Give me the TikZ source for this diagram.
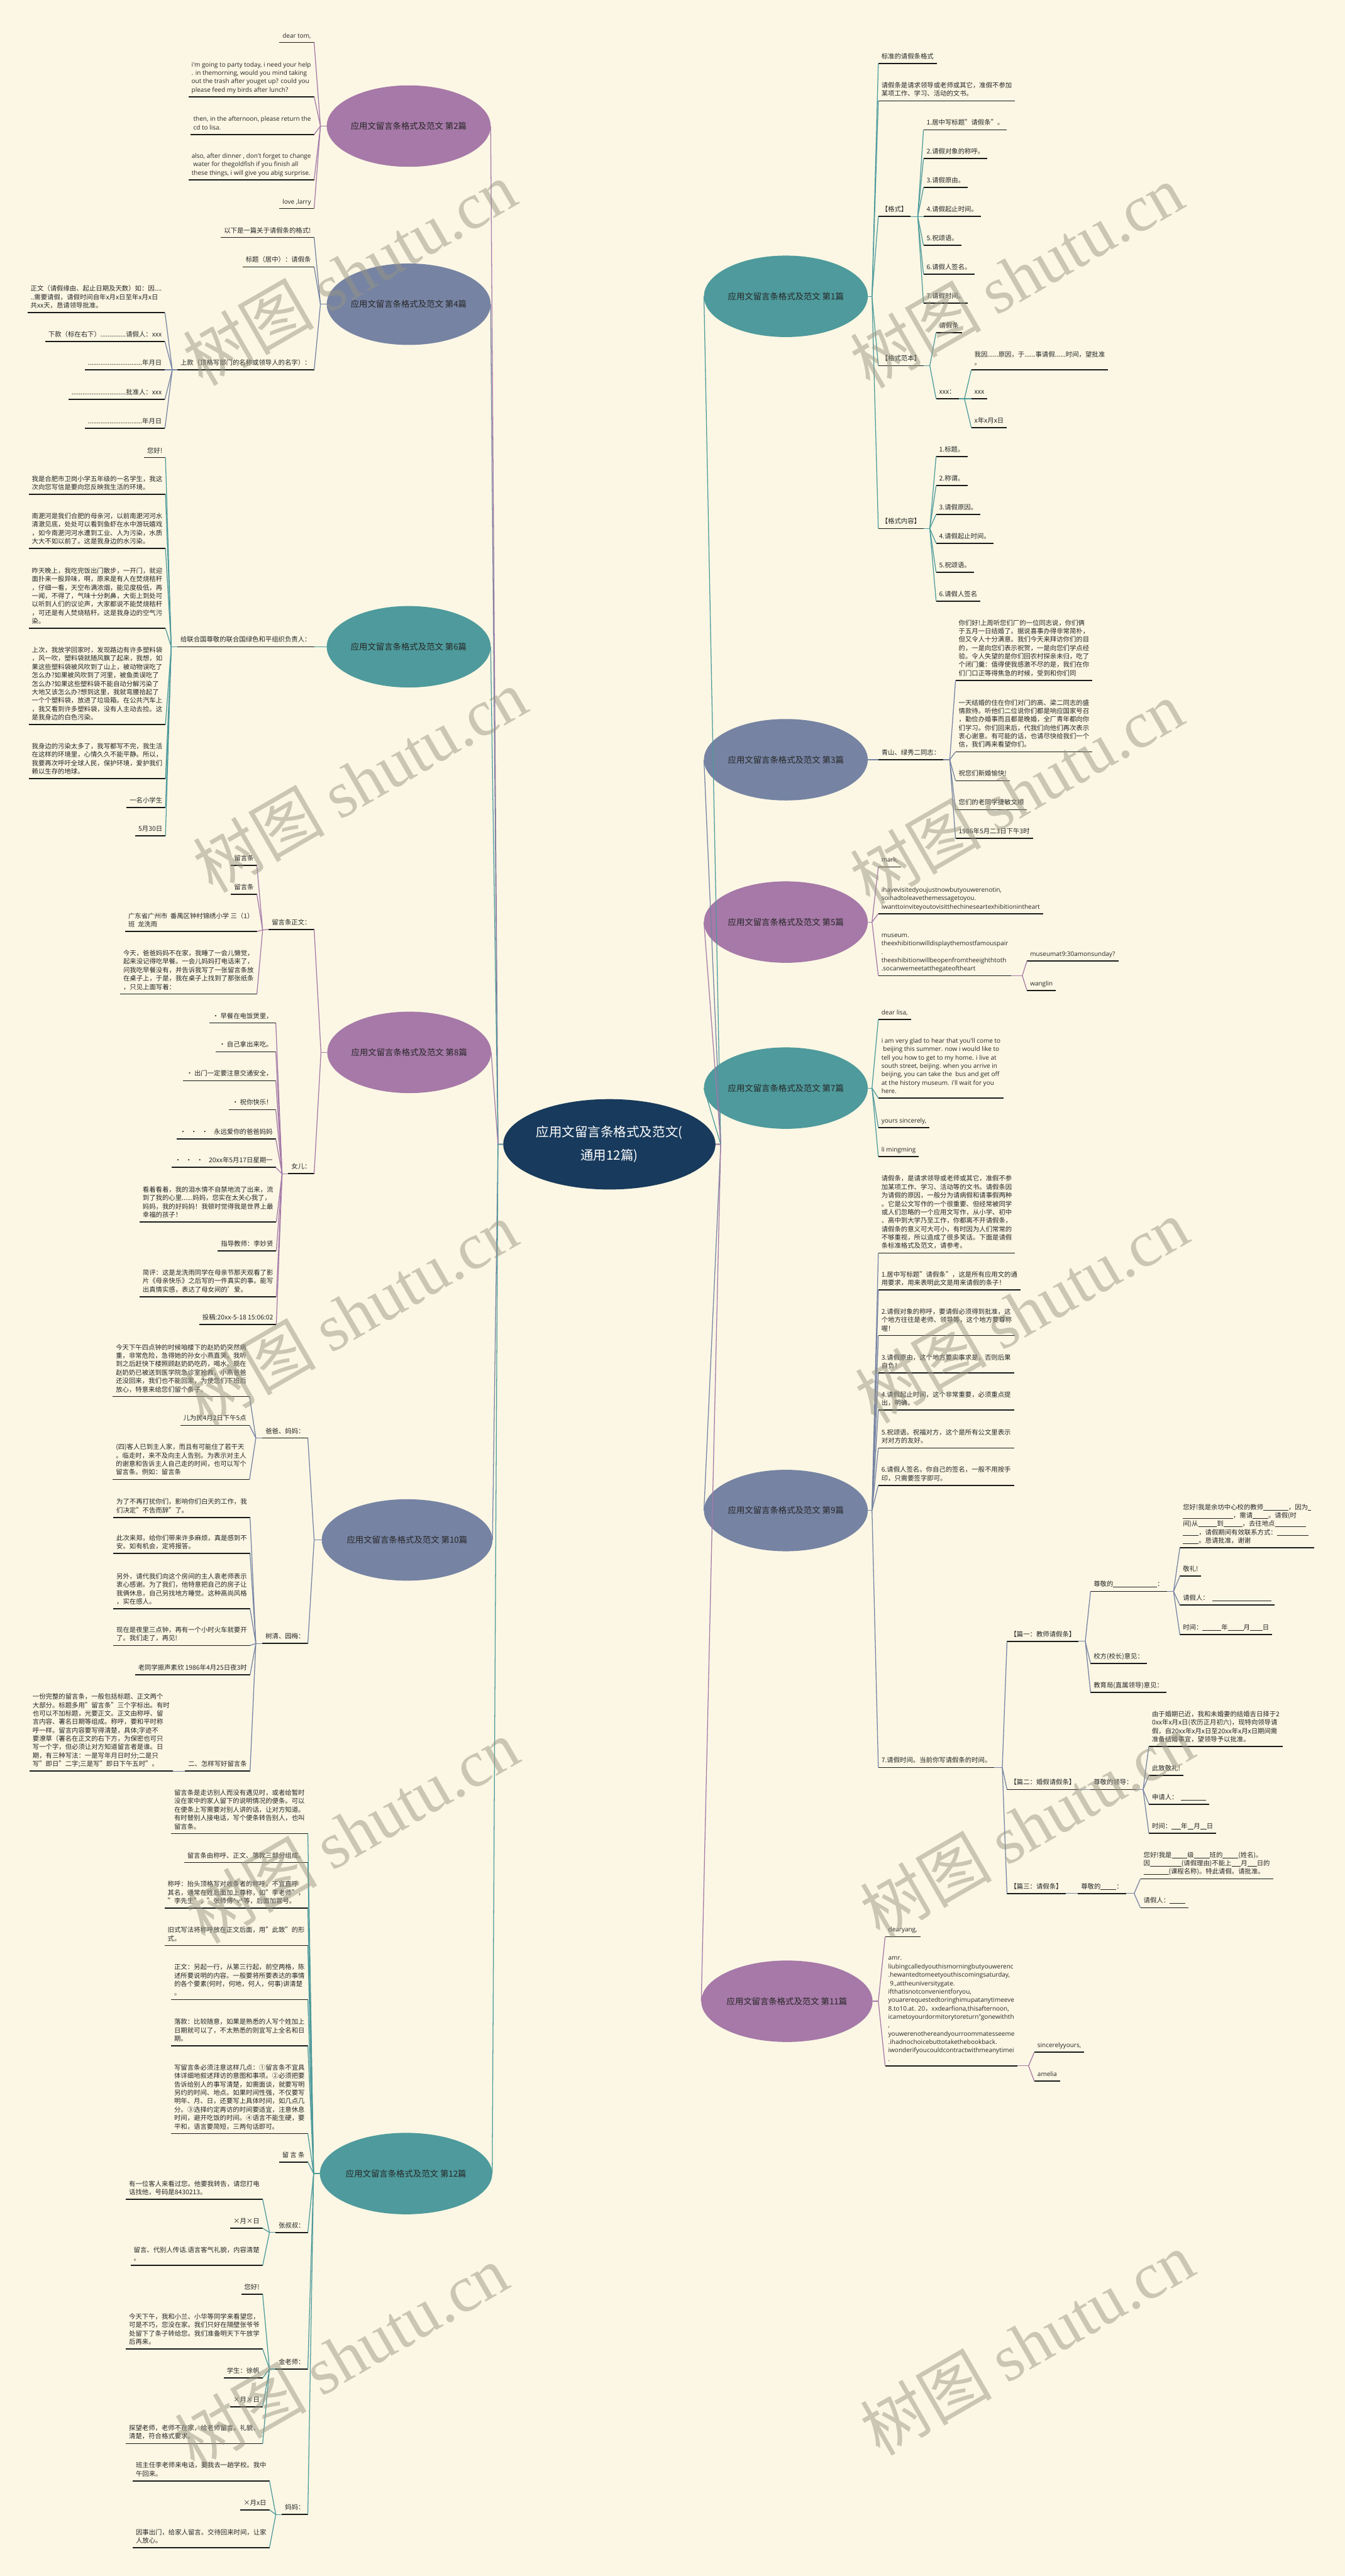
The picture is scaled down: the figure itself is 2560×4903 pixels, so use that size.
\documentclass[tikz,border=0pt]{standalone}
\usepackage{fontspec}
\setmainfont{Noto Sans CJK SC}
\newfontfamily\enfont{Open Sans}
\newfontfamily\cjkf{Noto Sans CJK SC}
\newfontfamily\wmlat{Liberation Serif}
\usetikzlibrary{shapes.geometric}
\definecolor{bgc}{RGB}{251,247,228}
\definecolor{cpur}{RGB}{166,121,168}
\definecolor{cslate}{RGB}{118,131,163}
\definecolor{cteal}{RGB}{78,154,156}
\definecolor{cnavy}{RGB}{24,58,92}
\definecolor{txt}{RGB}{38,38,38}
\definecolor{ulc}{RGB}{25,25,25}
\definecolor{wmc}{RGB}{152,150,132}
\newcommand\UL[1]{\rule[-0.1em]{\dimexpr0.48em*#1\relax}{0.06em}}
\tikzset{
  leaf/.style={inner xsep=1.8mm,inner ysep=5.1pt,outer sep=0pt,align=left,text=txt,font=\fontsize{10.6}{13.66}\selectfont},
  engl/.style={font=\enfont\fontsize{10.2}{13.66}\selectfont},
  uline/.style={draw=ulc,line width=1.7pt},
  lp/.style={draw=cpur,line width=1.3pt},
  ls/.style={draw=cslate,line width=1.3pt},
  lt/.style={draw=cteal,line width=1.3pt},
  br/.style={ellipse,inner sep=0pt,outer sep=0pt,minimum width=93.6mm,minimum height=46.5mm,font=\fontsize{13.66}{16}\selectfont,text=txt},
  wmk/.style={rotate=30,text=wmc,opacity=0.5,font=\fontsize{107}{107}\selectfont,inner sep=0pt},
}
\newcommand\leafL[5][]{\node[leaf,anchor=south east,#1] (#2) at (#3,#4) {#5\rule[-2.6pt]{0pt}{1pt}};\draw[uline] (#2.south west) -- (#2.south east);}
\newcommand\leafR[5][]{\node[leaf,anchor=south west,#1] (#2) at (#3,#4) {#5\rule[-2.6pt]{0pt}{1pt}};\draw[uline] (#2.south west) -- (#2.south east);}
\begin{document}
\begin{tikzpicture}[x=0.3mm,y=-0.3mm]
\fill[bgc] (0,0) rectangle (2560,4903);
\useasboundingbox (0,0) rectangle (2560,4903);

% root
\node[ellipse,fill=cnavy,text=white,inner sep=0pt,minimum width=121.2mm,minimum height=51.6mm,align=center,font=\fontsize{21}{38}\selectfont] (root) at (1160,2178) {应用文留言条格式及范文(\\通用12篇)};

% ===== left branches =====
\node[br,fill=cpur] (e2) at (778,240) {应用文留言条格式及范文 第2篇};
\node[br,fill=cslate] (e4) at (778,579) {应用文留言条格式及范文 第4篇};
\node[br,fill=cteal] (e6) at (778,1231) {应用文留言条格式及范文 第6篇};
\node[br,fill=cpur] (e8) at (779,2003) {应用文留言条格式及范文 第8篇};
\node[br,fill=cslate,minimum width=97.5mm] (e10) at (775,2931) {应用文留言条格式及范文 第10篇};
\node[br,fill=cteal,minimum width=98.4mm] (e12) at (773,4137) {应用文留言条格式及范文 第12篇};
% ===== right branches =====
\node[br,fill=cteal,minimum width=91.2mm] (e1) at (1496,564) {应用文留言条格式及范文 第1篇};
\node[br,fill=cslate,minimum width=91.2mm] (e3) at (1496,1446) {应用文留言条格式及范文 第3篇};
\node[br,fill=cpur,minimum width=91.2mm] (e5) at (1496,1755) {应用文留言条格式及范文 第5篇};
\node[br,fill=cteal,minimum width=91.2mm] (e7) at (1496,2071) {应用文留言条格式及范文 第7篇};
\node[br,fill=cslate,minimum width=91.2mm] (e9) at (1496,2875) {应用文留言条格式及范文 第9篇};
\node[br,fill=cpur,minimum width=97.8mm] (e11) at (1498,3809) {应用文留言条格式及范文 第11篇};

\foreach \e/\s in {e2/lp,e4/ls,e6/lt,e8/lp,e10/ls,e12/lt} \draw[\s] (\e.east) -- (948,2178) -- (root.west);
\foreach \e/\s in {e1/lt,e3/ls,e5/lp,e7/lt,e9/ls,e11/lp} \draw[\s] (\e.west) -- (1372,2178) -- (root.east);

% ----- 第2篇 -----
\leafL[engl]{a1}{598}{81}{dear tom,}
\leafL[engl]{a2}{598}{184}{i'm going to party today, i need your help\\. in themorning, would you mind taking\\out the trash after youget up? could you\\please feed my birds after lunch?}
\leafL[engl]{a3}{598}{256}{then, in the afternoon, please return the\\cd to lisa.}
\leafL[engl]{a4}{598}{342}{also, after dinner , don't forget to change\\\ water for thegoldfish if you finish all\\these things, i will give you abig surprise.}
\leafL[engl]{a5}{598}{397}{love ,larry}
\foreach \c in {a1,a2,a3,a4,a5} \draw[lp] (\c.south east) -- (610,240);
\draw[lp] (610,240) -- (e2.west);

% ----- 第4篇 -----
\leafL{b1}{598}{452}{以下是一篇关于请假条的格式!}
\leafL{b2}{598}{508}{标题（居中）：请假条}
\leafL{b3}{598}{704}{上款（顶格写部门的名称或领导人的名字）：}
\leafL{b31}{314}{595}{正文（请假缘由、起止日期及天数）如：因....\\..需要请假，请假时间自年x月x日至年x月x日\\共xx天，恳请领导批准。}
\leafL{b32}{314}{650}{下款（标在右下）..............请假人：xxx}
\leafL{b33}{314}{704}{..............................年月日}
\leafL{b34}{314}{760}{..............................批准人：xxx}
\leafL{b35}{314}{815}{..............................年月日}
\foreach \c in {b1,b2,b3} \draw[ls] (\c.south east) -- (610,579);
\draw[ls] (610,579) -- (e4.west);
\foreach \c in {b31,b32,b33,b34,b35} \draw[ls] (\c.south east) -- (328,704);
\draw[ls] (328,704) -- (b3.south west);

% ----- 第6篇 -----
\leafL{c1}{598}{1231}{给联合国尊敬的联合国绿色和平组织负责人：}
\leafL{c11}{315}{871}{您好!}
\leafL{c12}{315}{941}{我是合肥市卫岗小学五年级的一名学生，我这\\次向您写信是要向您反映我生活的环境。}
\leafL{c13}{315}{1044}{南淝河是我们合肥的母亲河，以前南淝河河水\\清澈见底，处处可以看到鱼虾在水中游玩嬉戏\\，如今南淝河河水遭到工业、人为污染，水质\\大大不如以前了。这是我身边的水污染。}
\leafL{c14}{315}{1196}{昨天晚上，我吃完饭出门散步，一开门，就迎\\面扑来一股异味，啊，原来是有人在焚烧秸秆\\，仔细一看，天空布满浓烟，能见度极低，再\\一闻，不得了，气味十分刺鼻，大街上到处可\\以听到人们的议论声，大家都说不能焚烧秸秆\\，可还是有人焚烧秸秆。这是我身边的空气污\\染。}
\leafL{c15}{315}{1379}{上次，我放学回家时，发现路边有许多塑料袋\\，风一吹，塑料袋就随风飘了起来，我想，如\\果这些塑料袋被风吹到了山上，被动物误吃了\\怎么办?如果被风吹到了河里，被鱼类误吃了\\怎么办?如果这些塑料袋不能自动分解污染了\\大地又该怎么办?想到这里，我就弯腰拾起了\\一个个塑料袋，放进了垃圾箱。在公共汽车上\\，我又看到许多塑料袋，没有人主动去捡。这\\是我身边的白色污染。}
\leafL{c16}{315}{1482}{我身边的污染太多了，我写都写不完，我生活\\在这样的环境里，心情久久不能平静。所以，\\我要再次呼吁全球人民，保护环境，爱护我们\\赖以生存的地球。}
\leafL{c17}{315}{1537}{一名小学生}
\leafL{c18}{315}{1591}{5月30日}
\draw[lt] (c1.south east) -- (610,1231) -- (e6.west);
\foreach \c in {c11,c12,c13,c14,c15,c16,c17,c18} \draw[lt] (\c.south east) -- (326,1231);
\draw[lt] (326,1231) -- (c1.south west);

% ----- 第8篇 -----
\leafL{d1}{598}{1769}{留言条正文：}
\leafL{d11}{489}{1647}{留言条}
\leafL{d12}{489}{1702}{留言条}
\leafL{d13}{489}{1773}{广东省广州市\ \ 番禺区钟村锦绣小学 三（1）\\班\ \ 龙洗雨}
\leafL{d14}{489}{1892}{今天，爸爸妈妈不在家，我睡了一会儿懒觉，\\起来没记得吃早餐。一会儿妈妈打电话来了，\\问我吃早餐没有，并告诉我写了一张留言条放\\在桌子上，于是，我在桌子上找到了那张纸条\\，只见上面写着：}
\leafL{d2}{598}{2234}{女儿：}
\leafL{d21}{525}{1947}{· 早餐在电饭煲里，}
\leafL{d22}{525}{2002}{· 自己拿出来吃。}
\leafL{d23}{525}{2057}{· 出门一定要注意交通安全，}
\leafL{d24}{525}{2112}{· 祝你快乐！}
\leafL{d25}{525}{2168}{·\ \ \ ·\ \ \ ·\ \ \ \ 永远爱你的爸爸妈妈}
\leafL{d26}{525}{2222}{·\ \ \ ·\ \ \ ·\ \ \ \ 20xx年5月17日星期一}
\leafL{d27}{526}{2326}{看着看着，我的泪水情不自禁地流了出来，流\\到了我的心里......妈妈，您实在太关心我了，\\妈妈，我的好妈妈！我顿时觉得我是世界上最\\幸福的孩子！}
\leafL{d28}{526}{2381}{指导教师：李妙贤}
\leafL{d29}{526}{2468}{简评：这是龙洗雨同学在母亲节那天观看了影\\片《母亲快乐》之后写的一件真实的事。能写\\出真情实感，表达了母女间的'爱。}
\leafL{d2a}{526}{2521}{投稿:20xx-5-18 15:06:02}
\foreach \c in {d1,d2} \draw[lp] (\c.south east) -- (611,2003);
\draw[lp] (611,2003) -- (e8.west);
\foreach \c in {d11,d12,d13,d14} \draw[lp] (\c.south east) -- (500,1770);
\draw[lp] (500,1770) -- (d1.south west);
\foreach \c in {d21,d22,d23,d24,d25,d26,d27,d28,d29,d2a} \draw[lp] (\c.south east) -- (537,2234);
\draw[lp] (537,2234) -- (d2.south west);

% ----- 第10篇 -----
\leafL{f1}{586}{2737}{爸爸、妈妈：}
\leafL{f11}{475}{2658}{今天下午四点钟的时候咱楼下的赵奶奶突然病\\重，非常危险，急得她的孙女小燕直哭。我听\\到之后赶快下楼照顾赵奶奶吃药，喝水。现在\\赵奶奶已被送到医学院急诊室抢救，小燕爸爸\\还没回来，我们也不能回家，为使您们下班后\\放心，特意来给您们留个条子。}
\leafL{f12}{475}{2713}{儿为民4月2日下午5点}
\leafL{f13}{475}{2816}{(四)客人已到主人家，而且有可能住了若干天\\。临走时，来不及向主人告别。为表示对主人\\的谢意和告诉主人自己走的时间，也可以写个\\留言条。例如：留言条}
\leafL{f2}{586}{3128}{树清、园梅：}
\leafL{f21}{476}{2888}{为了不再打扰你们，影响你们白天的工作，我\\们决定"不告而辞"了。}
\leafL{f22}{476}{2957}{此次来郑，给你们带来许多麻烦，真是感到不\\安。如有机会，定将报答。}
\leafL{f23}{476}{3062}{另外，请代我们向这个房间的主人袁老师表示\\衷心感谢。为了我们，他特意把自己的房子让\\我俩休息，自己另找地方睡觉。这种高尚风格\\，实在感人。}
\leafL{f24}{476}{3132}{现在是夜里三点钟，再有一个小时火车就要开\\了。我们走了，再见!}
\leafL{f25}{476}{3188}{老同学振声素欣 1986年4月25日夜3时}
\leafL{f26}{476}{3371}{二、怎样写好留言条}
\leafL{f261}{329}{3371}{一份完整的留言条，一般包括标题、正文两个\\大部分。标题多用"留言条"三个字标出。有时\\也可以不加标题，光要正文。正文由称呼、留\\言内容、署名日期等组成。称呼，要和平时称\\呼一样。留言内容要写得清楚，具体;字迹不\\要潦草〔署名在正文的右下方，为保密也可只\\写一个字，但必须让对方知道留言者是谁。日\\期，有三种写法：一是写年月日时分;二是只\\写"即日"二字;三是写"即日下午五时"。}
\foreach \c in {f1,f2} \draw[ls] (\c.south east) -- (598,2931);
\draw[ls] (598,2931) -- (e10.west);
\foreach \c in {f11,f12,f13} \draw[ls] (\c.south east) -- (487,2737);
\draw[ls] (487,2737) -- (f1.south west);
\foreach \c in {f21,f22,f23,f24,f25,f26} \draw[ls] (\c.south east) -- (487,3128);
\draw[ls] (487,3128) -- (f2.south west);
\draw[ls] (f261.south east) -- (f26.south west);

% ----- 第12篇 -----
\leafL{g1}{586}{3490}{留言条是走访别人而没有遇见时，或者给暂时\\没在家中的家人留下的说明情况的便条。可以\\在便条上写需要对别人讲的话，让对方知道。\\有时替别人接电话，写个便条转告别人，也叫\\留言条。}
\leafL{g2}{586}{3545}{留言条由称呼、正文、落款三部分组成。}
\leafL{g3}{586}{3632}{称呼：抬头顶格写对收条者的称呼，不宜直呼\\其名，通常在姓后面加上尊称，如"李老师"，\\"李先生"，"张师傅\textasciicircum v\textasciicircum 等，后面加冒号。}
\leafL{g4}{586}{3703}{旧式写法将称呼放在正文后面，用"此致"的形\\式。}
\leafL{g5}{586}{3806}{正文：另起一行，从第三行起，前空两格，陈\\述所要说明的内容。一般要将所要表达的事情\\的各个要素(何时，何地，何人，何事)讲清楚\\。}
\leafL{g6}{586}{3894}{落款：比较随意，如果是熟悉的人写个姓加上\\日期就可以了，不太熟悉的则宜写上全名和日\\期。}
\leafL{g7}{586}{4061}{写留言条必须注意这样几点：①留言条不宜具\\体详细地叙述拜访的意图和事项。②必须把要\\告诉给别人的事写清楚，如需面谈，就要写明\\另约的时间、地点。如果时间性强，不仅要写\\明年、月、日，还要写上具体时间，如几点几\\分。③选择约定再访的时间要适宜，注意休息\\时间，避开吃饭的时间。④语言不能生硬，要\\平和，语言要简短，三两句话即可。}
\leafL{g8}{586}{4115}{留\ 言\ 条}
\leafL{g9}{586}{4249}{张叔叔：}
\leafL{g91}{500}{4186}{有一位客人来看过您。他要我转告，请您打电\\话找他，号码是8430213。}
\leafL{g92}{500}{4241}{×月×日}
\leafL{g93}{500}{4312}{留言、代别人传话.语言客气礼貌，内容清楚\\。}
\leafL{g10}{586}{4509}{金老师：}
\leafL{g101}{500}{4367}{您好!}
\leafL{g102}{500}{4471}{今天下午，我和小兰、小华等同学来看望您，\\可是不巧，您没在家。我们只好在隔壁张爷爷\\处留下了条子转给您。我们准备明天下午放学\\后再来。}
\leafL{g103}{500}{4526}{学生：徐帆}
\leafL{g104}{500}{4581}{×月×日}
\leafL{g105}{500}{4651}{探望老师，老师不在家，给老师留言。礼貌、\\清楚，符合格式要求。}
\leafL{g11}{586}{4786}{妈妈：}
\leafL{g111}{513}{4722}{班主任李老师来电话，要我去一趟学校。我中\\午回来。}
\leafL{g112}{513}{4777}{×月x日}
\leafL{g113}{513}{4849}{因事出门，给家人留言。交待回来时间，让家\\人放心。}
\foreach \c in {g1,g2,g3,g4,g5,g6,g7,g8,g9,g10,g11} \draw[lt] (\c.south east) -- (597,4137);
\draw[lt] (597,4137) -- (e12.west);
\foreach \c in {g91,g92,g93} \draw[lt] (\c.south east) -- (513,4249);
\draw[lt] (513,4249) -- (g9.south west);
\foreach \c in {g101,g102,g103,g104,g105} \draw[lt] (\c.south east) -- (513,4509);
\draw[lt] (513,4509) -- (g10.south west);
\foreach \c in {g111,g112,g113} \draw[lt] (\c.south east) -- (525,4786);
\draw[lt] (525,4786) -- (g11.south west);

% ----- 第1篇 -----
\leafR{h1}{1672}{121}{标准的请假条格式}
\leafR{h2}{1672}{192}{请假条是请求领导或老师或其它，准假不参加\\某项工作、学习、活动的文书。}
\leafR{h3}{1672}{412}{【格式】}
\leafR{h31}{1758}{247}{1.居中写标题"请假条"。}
\leafR{h32}{1758}{302}{2.请假对象的称呼。}
\leafR{h33}{1758}{357}{3.请假原由。}
\leafR{h34}{1758}{412}{4.请假起止时间。}
\leafR{h35}{1758}{467}{5.祝颂语。}
\leafR{h36}{1758}{522}{6.请假人签名。}
\leafR{h37}{1758}{577}{7.请假时间。}
\leafR{h4}{1672}{696}{【格式范本】}
\leafR{h41}{1782}{633}{请假条}
\leafR{h42}{1782}{759}{xxx：}
\leafR{h421}{1849}{704}{我因......原因，于......事请假......时间，望批准\\。}
\leafR{h422}{1849}{759}{xxx}
\leafR{h423}{1849}{814}{x年x月x日}
\leafR{h5}{1672}{1006}{【格式内容】}
\leafR{h51}{1782}{869}{1.标题。}
\leafR{h52}{1782}{924}{2.称谓。}
\leafR{h53}{1782}{979}{3.请假原因。}
\leafR{h54}{1782}{1034}{4.请假起止时间。}
\leafR{h55}{1782}{1089}{5.祝颂语。}
\leafR{h56}{1782}{1144}{6.请假人签名}
\foreach \c in {h1,h2,h3,h4,h5} \draw[lt] (\c.south west) -- (1660,564);
\draw[lt] (1660,564) -- (e1.east);
\foreach \c in {h31,h32,h33,h34,h35,h36,h37} \draw[lt] (\c.south west) -- (1747,412);
\draw[lt] (1747,412) -- (h3.south east);
\foreach \c in {h41,h42} \draw[lt] (\c.south west) -- (1770,696);
\draw[lt] (1770,696) -- (h4.south east);
\foreach \c in {h421,h422,h423} \draw[lt] (\c.south west) -- (1836,759);
\draw[lt] (1836,759) -- (h42.south east);
\foreach \c in {h51,h52,h53,h54,h55,h56} \draw[lt] (\c.south west) -- (1770,1006);
\draw[lt] (1770,1006) -- (h5.south east);

% ----- 第3篇 -----
\leafR{i1}{1672}{1446}{青山、绿秀二同志：}
\leafR{i11}{1819}{1295}{你们好!上周听您们厂的一位同志说，你们俩\\于五月一日结婚了。据说喜事办得非常简朴，\\但又令人十分满意。我们今天来拜访你们的目\\的，一是向您们表示祝贺，一是向您们学点经\\验。令人失望的是你们回农村探亲未归，吃了\\个闭门羹：值得使我感激不尽的是，我们在你\\们门口正等得焦急的时候，受到和你们同}
\leafR{i12}{1819}{1431}{一天结婚的住在你们对门的高、梁二同志的盛\\情款待。听他们二位说你们都是响应国家号召\\，勤俭办婚事而且都是晚婚，全厂青年都向你\\们学习。你们回来后，代我们向他们再次表示\\衷心谢意。有可能的话，也请尽快给我们一个\\信，我们再来看望你们。}
\leafR{i13}{1819}{1486}{祝您们新婚愉快!}
\leafR{i14}{1819}{1541}{您们的老同学捷敏文顺}
\leafR{i15}{1819}{1596}{1986年5月二3日下午3时}
\draw[ls] (i1.south west) -- (1660,1446) -- (e3.east);
\foreach \c in {i11,i12,i13,i14,i15} \draw[ls] (\c.south west) -- (1808,1446);
\draw[ls] (1808,1446) -- (i1.south east);

% ----- 第5篇 -----
\leafR[engl]{k1}{1672}{1650}{mark,}
\leafR[engl]{k2}{1672}{1739}{ihavevisitedyoujustnowbutyouwerenotin,\\soihadtoleavethemessagetoyou.\\iwanttoinviteyoutovisitthechineseartexhibitionintheart}
\leafR[engl]{k3}{1672}{1857}{museum.\\theexhibitionwilldisplaythemostfamouspair\\.\\theexhibitionwillbeopenfromtheeighthtoth\\.socanwemeetatthegateoftheart}
\leafR[engl]{k31}{1955}{1829}{museumat9:30amonsunday?}
\leafR[engl]{k32}{1955}{1885}{wanglin}
\foreach \c in {k1,k2,k3} \draw[lp] (\c.south west) -- (1660,1755);
\draw[lp] (1660,1755) -- (e5.east);
\foreach \c in {k31,k32} \draw[lp] (\c.south west) -- (1946,1857);
\draw[lp] (1946,1857) -- (k3.south east);

% ----- 第7篇 -----
\leafR[engl]{l1}{1672}{1940}{dear lisa,}
\leafR[engl]{l2}{1672}{2090}{i am very glad to hear that you'll come to\\\ beijing this summer. now i would like to\\tell you how to get to my home. i live at\\south street, beijing. when you arrive in\\beijing, you can take the\ \ bus and get off\\at the history museum. i'll wait for you\\here.}
\leafR[engl]{l3}{1672}{2146}{yours sincerely,}
\leafR[engl]{l4}{1672}{2201}{li mingming}
\foreach \c in {l1,l2,l3,l4} \draw[lt] (\c.south west) -- (1660,2071);
\draw[lt] (1660,2071) -- (e7.east);

% ----- 第9篇 -----
\leafR{m1}{1672}{2385}{请假条，是请求领导或老师或其它，准假不参\\加某项工作、学习、活动等的文书。请假条因\\为请假的原因，一般分为请病假和请事假两种\\。它是公文写作的一个很重要、但经常被同学\\或人们忽略的一个应用文写作，从小学、初中\\、高中到大学乃至工作，你都离不开请假条，\\请假条的意义可大可小，有时因为人们常常的\\不够重视，所以造成了很多笑话。下面是请假\\条标准格式及范文，请参考。}
\leafR{m2}{1672}{2455}{1.居中写标题"请假条"，这是所有应用文的通\\用要求，用来表明此文是用来请假的条子！}
\leafR{m3}{1672}{2542}{2.请假对象的称呼，要请假必须得到批准，这\\个地方往往是老师、领导等，这个地方要尊称\\喔！}
\leafR{m4}{1672}{2613}{3.请假原由，这个地方要实事求是，否则后果\\自负！}
\leafR{m5}{1672}{2684}{4.请假起止时间，这个非常重要，必须重点提\\出，明确。}
\leafR{m6}{1672}{2756}{5.祝颂语。祝福对方，这个是所有公文里表示\\对对方的友好。}
\leafR{m7}{1672}{2827}{6.请假人签名。你自己的签名，一般不用按手\\印，只需要签字即可。}
\leafR{m8}{1672}{3364}{7.请假时间。当前你写请假条的时间。}
\leafR{m81}{1917}{3124}{【篇一：教师请假条】}
\leafR{m811}{2076}{3029}{尊敬的\UL{14}：}
\leafR{m8111}{2246}{2946}{您好!我是余坊中心校的教师\UL{8}，因为\UL{1}\\\UL{16}，需请\UL{5}。请假(时\\间)从\UL{6}到\UL{6}，去往地点\UL{10}\\\UL{5}，请假期间有效联系方式：\UL{10}\\\UL{5}。恳请批准，谢谢}
\leafR{m8112}{2246}{3000}{敬礼!}
\leafR{m8113}{2246}{3055}{请假人：\ \ \UL{19}}
\leafR{m8114}{2246}{3111}{时间：\UL{6}年\UL{5}月\UL{4}日}
\leafR{m812}{2076}{3166}{校方(校长)意见：}
\leafR{m813}{2076}{3221}{教育局(直属领导)意见：}
\leafR{m82}{1917}{3406}{【篇二：婚假请假条】}
\leafR{m821}{2076}{3406}{尊敬的领导：}
\leafR{m8211}{2187}{3324}{由于婚期已近，我和未婚妻的结婚吉日择于2\\0xx年x月x日(农历正月初六)，现特向领导请\\假，自20xx年x月x日至20xx年x月x日期间需\\准备结婚事宜，望领导予以批准。}
\leafR{m8212}{2187}{3379}{此致敬礼!}
\leafR{m8213}{2187}{3434}{申请人：\ \ \UL{8}}
\leafR{m8214}{2187}{3489}{时间：\UL{3}年\UL{2}月\UL{2}日}
\leafR{m83}{1917}{3604}{【篇三：请假条】}
\leafR{m831}{2052}{3604}{尊敬的\UL{5}：}
\leafR{m8311}{2171}{3576}{您好!我是\UL{5}级\UL{5}班的\UL{5}(姓名)。\\因\UL{10}(请假理由)不能上\UL{3}月\UL{3}日的\\\UL{8}(课程名称)。特此请假。请批准。}
\leafR{m8312}{2171}{3631}{请假人：\UL{5}}
\foreach \c in {m1,m2,m3,m4,m5,m6,m7,m8} \draw[ls] (\c.south west) -- (1660,2875);
\draw[ls] (1660,2875) -- (e9.east);
\foreach \c in {m81,m82,m83} \draw[ls] (\c.south west) -- (1908,3364);
\draw[ls] (1908,3364) -- (m8.south east);
\foreach \c in {m811,m812,m813} \draw[ls] (\c.south west) -- (2066,3124);
\draw[ls] (2066,3124) -- (m81.south east);
\foreach \c in {m8111,m8112,m8113,m8114} \draw[ls] (\c.south west) -- (2234,3029);
\draw[ls] (2234,3029) -- (m811.south east);
\draw[ls] (m82.south east) -- (m821.south west);
\foreach \c in {m8211,m8212,m8213,m8214} \draw[ls] (\c.south west) -- (2176,3406);
\draw[ls] (2176,3406) -- (m821.south east);
\draw[ls] (m83.south east) -- (m831.south west);
\foreach \c in {m8311,m8312} \draw[ls] (\c.south west) -- (2159,3604);
\draw[ls] (2159,3604) -- (m831.south east);

% ----- 第11篇 -----
\leafR[engl]{n1}{1685}{3686}{dearyang,}
\leafR[engl]{n2}{1685}{3932}{amr.\\liubingcalledyouthismorningbutyouwerenc\\.hewantedtomeetyouthiscomingsaturday,\\\ 9.,attheuniversitygate.\\ifthatisnotconvenientforyou,\\youarerequestedtoringhimupatanytimeeve\\8.to10.at. 20{\cjkf ，}xxdearfiona,thisafternoon,\\icametoyourdormitorytoreturn"gonewithth\\,\\youwerenothereandyourroommatesseeme\\.ihadnochoicebuttotakethebookback.\\iwonderifyoucouldcontractwithmeanytimei\\.}
\leafR[engl]{n21}{1969}{3906}{sincerelyyours,}
\leafR[engl]{n22}{1969}{3961}{amelia}
\foreach \c in {n1,n2} \draw[lp] (\c.south west) -- (1672,3809);
\draw[lp] (1672,3809) -- (e11.east);
\foreach \c in {n21,n22} \draw[lp] (\c.south west) -- (1958,3932);
\draw[lp] (1958,3932) -- (n2.south east);

% ----- watermarks -----
\foreach \wx/\wy/\wn in {665/520/w1,685/1485/w2,668/2500/w3,670/3485/w4,650/4485/w5,1935/525/w6,1935/1508/w7,1945/2495/w8,1955/3475/w9,1955/4460/w10}
  \node[wmk] (\wn) at (\wx,\wy) {树图 {\wmlat shutu.cn}};
\end{tikzpicture}
\end{document}
